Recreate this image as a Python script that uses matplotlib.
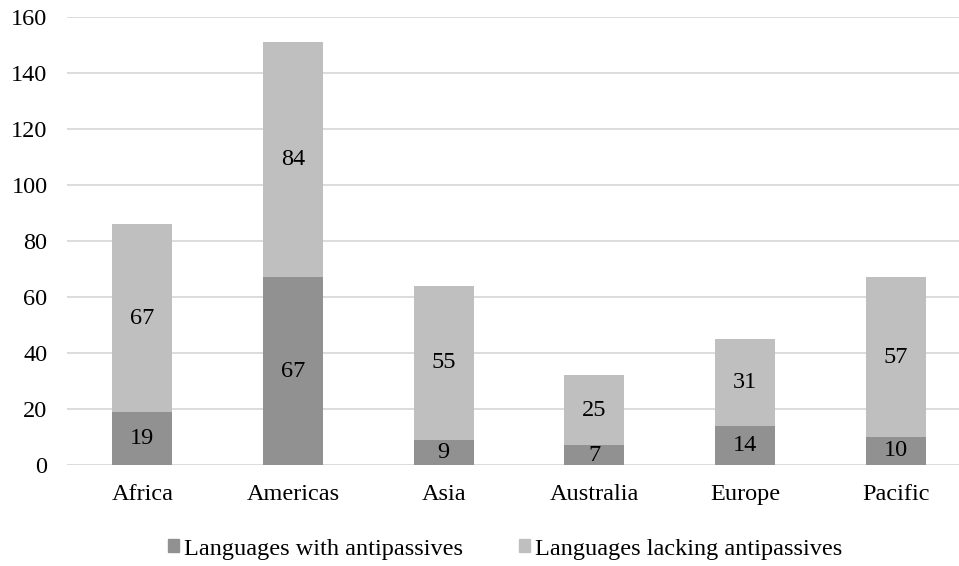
import matplotlib
matplotlib.use("Agg")
import matplotlib.pyplot as plt
from matplotlib.patches import Patch

regions = ["Africa", "Americas", "Asia", "Australia", "Europe", "Pacific"]
with_antipassive = [19, 67, 9, 7, 14, 10]
lacking_antipassive = [67, 84, 55, 25, 31, 57]
y_ticks = [0, 20, 40, 60, 80, 100, 120, 140, 160]

plt.rcParams["font.family"] = ["Liberation Serif", "DejaVu Serif"]

W, H = 959, 566
fig = plt.figure(figsize=(W / 100, H / 100), dpi=100)
ax = fig.add_axes([67 / W, 1 - 465 / H, 904 / W, 448 / H])

dark = "#919191"
light = "#bfbfbf"
x = list(range(len(regions)))
bw = 0.4
fs = 17.5

b1 = ax.bar(x, with_antipassive, width=bw, color=dark, zorder=3)
b2 = ax.bar(x, lacking_antipassive, width=bw, bottom=with_antipassive,
            color=light, zorder=3)

for rect, v in zip(b1, with_antipassive):
    ax.text(rect.get_x() + rect.get_width() / 2, v / 2, str(v),
            ha="center", va="center", fontsize=fs, color="black", zorder=4)
for rect, v, b in zip(b2, lacking_antipassive, with_antipassive):
    ax.text(rect.get_x() + rect.get_width() / 2, b + v / 2, str(v),
            ha="center", va="center", fontsize=fs, color="black", zorder=4)

ax.set_xlim(-0.5, len(regions) - 0.5)
ax.set_ylim(0, 160)
ax.set_yticks(y_ticks)
ax.set_yticklabels([str(t) for t in y_ticks], fontsize=fs)
ax.set_xticks(x)
ax.set_xticklabels(regions, fontsize=fs)
ax.tick_params(axis="both", length=0)
ax.tick_params(axis="y", pad=14)
ax.tick_params(axis="x", pad=14)
ax.yaxis.grid(True, color="#d9d9d9", linewidth=1.3, zorder=0)
ax.set_axisbelow(True)
for s in ax.spines.values():
    s.set_visible(False)

handles = [Patch(color=dark, label="Languages with antipassives"),
           Patch(color=light, label="Languages lacking antipassives")]
fig.legend(handles=handles, loc="center", bbox_to_anchor=(505 / W, 1 - 549 / H),
           ncol=2, frameon=False, fontsize=17.5, handlelength=0.45, handleheight=0.45,
           handletextpad=0.2, columnspacing=2.3)

fig.savefig("out.png", dpi=100)
